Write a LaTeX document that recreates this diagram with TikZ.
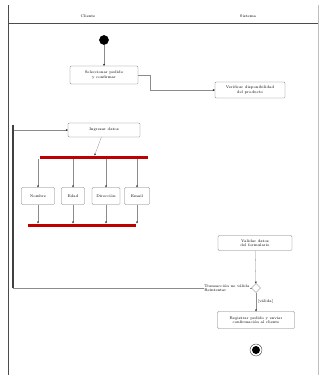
\documentclass[tikz,border=0pt]{standalone}
\usepackage{tikz}
\usetikzlibrary{shapes.geometric,arrows.meta}

\begin{document}
\begin{tikzpicture}[x=0.5mm,y=-0.5mm,
  every node/.style={font=\fontsize{5.5}{6.5}\selectfont, inner sep=1pt, outer sep=0pt},
  accion/.style={draw=black!55, rounded corners=1.5pt, align=center},
  barra/.style={fill=red!75!black, minimum height=1.5mm, inner sep=0pt},
  flujo/.style={draw=black!45, thin, -{Stealth[length=3pt,black]}},
  carril/.style={draw=black!70, line width=0.6pt}]
\useasboundingbox (0,0) rectangle (324,375);

% carriles
\draw[carril] (8,5) -- (8,375);
\draw[draw=black!25] (318,5) -- (318,375);
\draw[carril] (8,23) -- (318,23);
\node (carrilA) at (88,16) {Cliente};
\node (carrilB) at (248,16) {Sistema};

% inicio
\node[circle, fill=black, minimum size=5mm-\pgflinewidth] (ini) at (104,40) {};

% acciones
\node[accion, minimum width=34mm, minimum height=9mm] (a1) at (104,75) {Seleccionar pedido\\y confirmar};
\node[accion, minimum width=35mm, minimum height=8mm] (a2) at (250,90) {Verificar disponibilidad\\del producto};
\node[accion, minimum width=36mm, minimum height=7mm] (a3) at (104,130) {Ingresar datos};

\node[barra, minimum width=54mm] (fork) at (94,157) {};
\node[accion, minimum width=16.5mm, minimum height=8.5mm] (b1) at (38,196) {Nombre};
\node[accion, minimum width=11.5mm, minimum height=8.5mm] (b2) at (73,196) {Edad};
\node[accion, minimum width=14mm, minimum height=8.5mm] (b3) at (106,196) {Direcci\'on};
\node[accion, minimum width=12.5mm, minimum height=8.5mm] (b4) at (137,196) {Email};
\node[barra, minimum width=53.5mm] (join) at (82,225) {};

\node[accion, minimum width=37mm, minimum height=7.5mm] (a4) at (255,243) {Validar datos\\del formulario};
\node[diamond, draw=black!70, minimum size=4.5mm, inner sep=0pt] (dec) at (256,288) {};
\node[accion, minimum width=38.5mm, minimum height=8.5mm] (a5) at (256,320) {Registrar pedido y enviar\\confirmaci\'on al cliente};

% fin
\node[circle, draw=black, minimum size=6mm] (fin) at (256,350) {};
\node[circle, fill=black, minimum size=4mm] (finc) at (fin) {};

% flujos
\draw[flujo] (ini) -- (a1);
\draw[flujo] (a1.east) -- ++(12,0) |- (a2.west);
\draw[flujo] (a3) -- (fork);
\foreach \b in {b1,b2,b3,b4} {
  \draw[flujo] (fork.south -| \b.north) -- (\b.north);
  \draw[flujo] (\b.south) -- (join.north -| \b.south);
}
\draw[flujo] (a4) -- (dec);
\draw[flujo] (dec) -- node[right, xshift=2pt] {[v\'alida]} (a5);
\draw[flujo] (dec.west) -- node[pos=0, anchor=east, xshift=-2pt, fill=white, align=left] {Transacci\'on no v\'alida\\Reintentar} (13,288)
  -- (13,130) -- (a3.west);
\draw[black!75, line width=2pt] (13,288) -- (13,125);
\end{tikzpicture}
\end{document}
